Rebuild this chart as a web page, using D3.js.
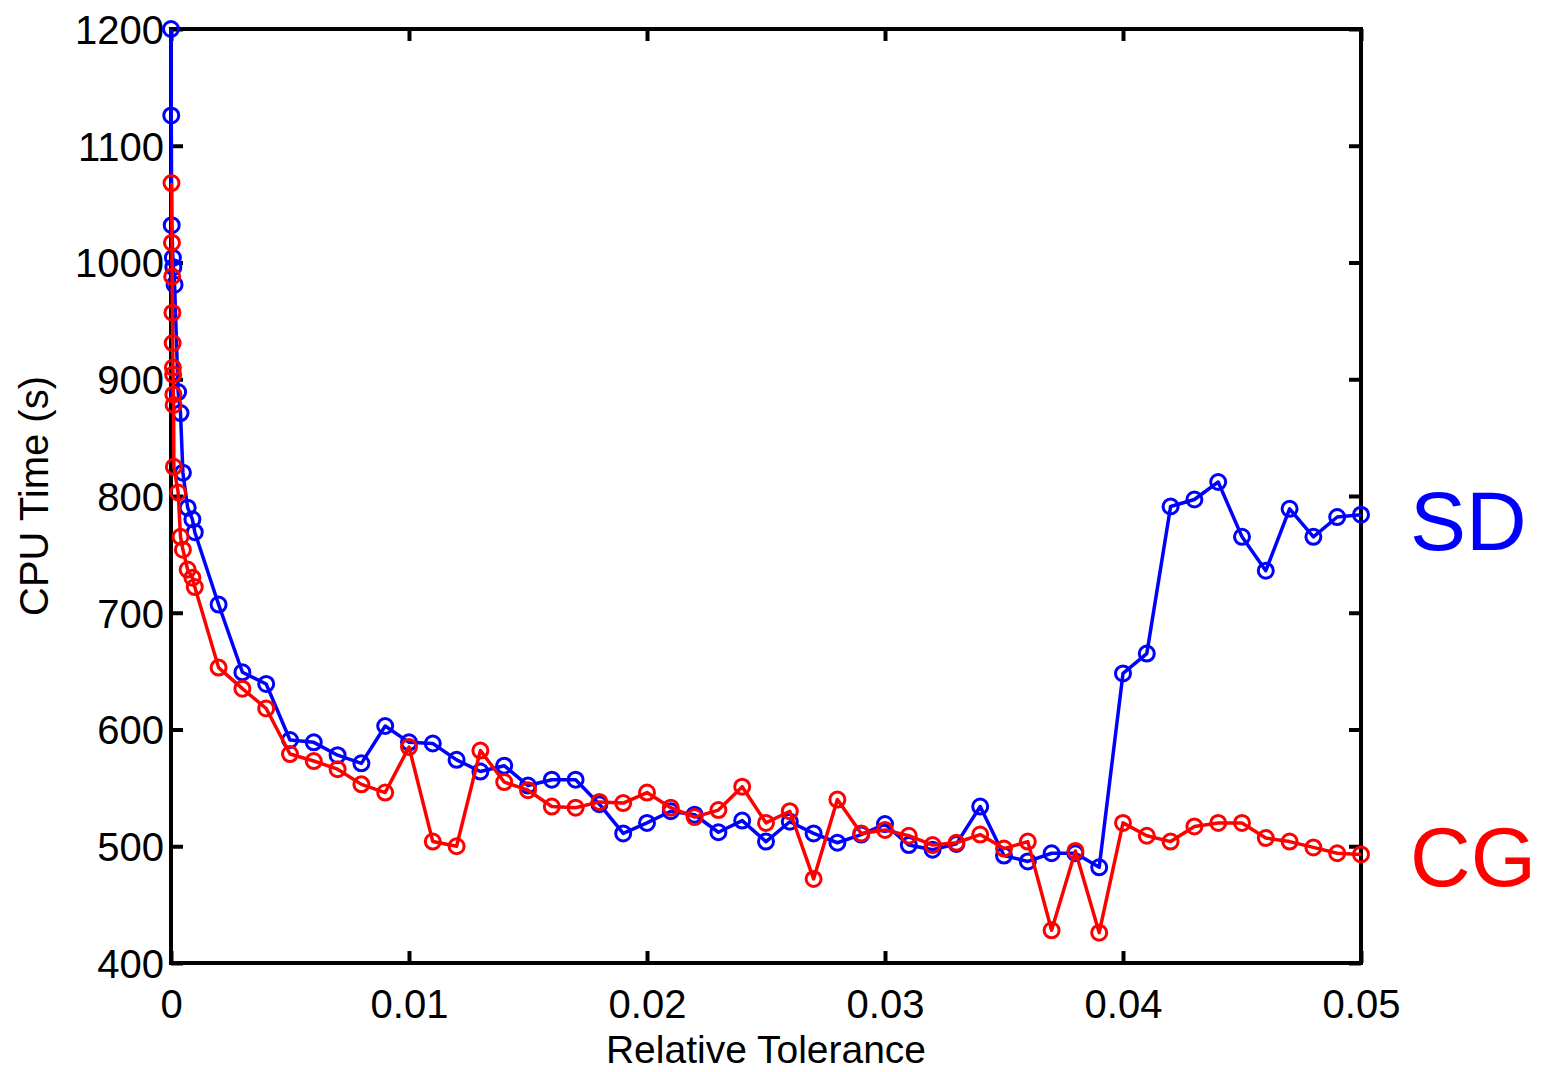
<!DOCTYPE html>
<html>
<head>
<meta charset="utf-8">
<script src="https://cdn.jsdelivr.net/npm/d3@7"></script>
<style>
  html, body { margin: 0; padding: 0; background: #fff; }
  svg { display: block; }
  text { font-family: "Liberation Sans", Arial, Helvetica, sans-serif; }
</style>
</head>
<body>
<svg id="chart" width="1541" height="1072"></svg>
<script>
// ---- Data ----
const xTicks = [0, 0.01, 0.02, 0.03, 0.04, 0.05];
const xTickLabels = ["0", "0.01", "0.02", "0.03", "0.04", "0.05"];
const yTicks = [400, 500, 600, 700, 800, 900, 1000, 1100, 1200];
const yTickLabels = ["400", "500", "600", "700", "800", "900", "1000", "1100", "1200"];

const sdTol = [0, 0.00001, 0.00003, 0.00008, 0.0001, 0.00015, 0.0003, 0.0004, 0.0005, 0.0007, 0.0009, 0.001,
  0.002, 0.003, 0.004, 0.005, 0.006, 0.007, 0.008, 0.009, 0.010,
  0.011, 0.012, 0.013, 0.014, 0.015, 0.016, 0.017, 0.018, 0.019, 0.020,
  0.021, 0.022, 0.023, 0.024, 0.025, 0.026, 0.027, 0.028, 0.029, 0.030,
  0.031, 0.032, 0.033, 0.034, 0.035, 0.036, 0.037, 0.038, 0.039, 0.040,
  0.041, 0.042, 0.043, 0.044, 0.045, 0.046, 0.047, 0.048, 0.049, 0.050];
const sdTime = [1200, 1126, 1032, 1004, 996, 981, 889, 871, 820, 790, 780, 769,
  707, 649, 639, 591, 589, 578, 571, 603, 589,
  588, 574, 564, 569, 552, 557, 557, 536, 511, 520,
  530, 527, 512, 522, 504, 521, 511, 503, 510, 519,
  501, 497, 502, 534, 492, 487, 494, 494, 482, 648,
  665, 791, 797, 812, 765, 736, 789, 765, 782, 784];

const cgTol = [0.00002, 0.00004, 0.00005, 0.00006, 0.00007, 0.00008, 0.00009, 0.0001, 0.00011, 0.00012,
  0.0003, 0.0004, 0.0005, 0.0007, 0.0009, 0.001,
  0.002, 0.003, 0.004, 0.005, 0.006, 0.007, 0.008, 0.009, 0.010,
  0.011, 0.012, 0.013, 0.014, 0.015, 0.016, 0.017, 0.018, 0.019, 0.020,
  0.021, 0.022, 0.023, 0.024, 0.025, 0.026, 0.027, 0.028, 0.029, 0.030,
  0.031, 0.032, 0.033, 0.034, 0.035, 0.036, 0.037, 0.038, 0.039, 0.040,
  0.041, 0.042, 0.043, 0.044, 0.045, 0.046, 0.047, 0.048, 0.049, 0.050];
const cgTime = [1068, 1017, 988, 957, 931, 910, 904, 887, 878, 825,
  803, 765, 754, 737, 730, 722,
  653, 635, 618, 579, 573, 566, 553, 546, 585,
  504, 500, 582, 555, 548, 534, 533, 538, 537, 546,
  533, 525, 531, 551, 520, 530, 472, 540, 511, 514,
  509, 501, 503, 510, 498, 504, 428, 496, 426, 520,
  509, 504, 517, 520, 520, 507, 504, 499, 494, 493];

const seriesNames = ["SD", "CG"];
const seriesColors = ["#0000ff", "#ff0000"];

// ---- Layout ----
const svg = d3.select("#chart");
const mLeft = 171, mRight = 1361, mTop = 29, mBottom = 963;

const x = d3.scaleLinear().domain([0, 0.05]).range([mLeft, mRight]);
const y = d3.scaleLinear().domain([400, 1200]).range([mBottom, mTop]);

const tickLen = 12;
const axisW = 4;

// Bottom axis
const gB = svg.append("g").attr("transform", `translate(0,${mBottom})`)
  .call(d3.axisBottom(x).tickValues(xTicks).tickFormat((d, i) => xTickLabels[i])
    .tickSizeInner(-tickLen).tickSizeOuter(0).tickPadding(27));
// Top axis
const gT = svg.append("g").attr("transform", `translate(0,${mTop})`)
  .call(d3.axisTop(x).tickValues(xTicks).tickFormat("")
    .tickSizeInner(-tickLen).tickSizeOuter(0));
// Left axis
const gL = svg.append("g").attr("transform", `translate(${mLeft},0)`)
  .call(d3.axisLeft(y).tickValues(yTicks).tickFormat((d, i) => yTickLabels[i])
    .tickSizeInner(-tickLen).tickSizeOuter(0).tickPadding(7));
// Right axis
const gR = svg.append("g").attr("transform", `translate(${mRight},0)`)
  .call(d3.axisRight(y).tickValues(yTicks).tickFormat("")
    .tickSizeInner(-tickLen).tickSizeOuter(0));

[gB, gT, gL, gR].forEach(g => {
  g.select(".domain").remove();
  g.selectAll(".tick line").attr("stroke", "#000").attr("stroke-width", axisW);
  g.selectAll(".tick text").attr("fill", "#000").attr("font-size", 40)
    .attr("font-family", "'Liberation Sans', Arial, sans-serif");
});
gL.selectAll(".tick text").attr("dy", "0.36em");
gB.selectAll(".tick text").attr("dy", "0.71em");

// Box
svg.append("rect")
  .attr("x", mLeft).attr("y", mTop)
  .attr("width", mRight - mLeft).attr("height", mBottom - mTop)
  .attr("fill", "none").attr("stroke", "#000").attr("stroke-width", axisW);

// Axis titles
svg.append("text")
  .attr("x", (mLeft + mRight) / 2).attr("y", 1063)
  .attr("text-anchor", "middle").attr("font-size", 39).attr("fill", "#000")
  .text("Relative Tolerance");
svg.append("text")
  .attr("transform", `translate(48,${(mTop + mBottom) / 2}) rotate(-90)`)
  .attr("text-anchor", "middle").attr("font-size", 40).attr("fill", "#000")
  .text("CPU Time (s)");

// Series
const series = [
  { name: seriesNames[0], color: seriesColors[0], xs: sdTol, ys: sdTime },
  { name: seriesNames[1], color: seriesColors[1], xs: cgTol, ys: cgTime }
];

const line = d3.line().x(d => x(d[0])).y(d => y(d[1]));

series.forEach(s => {
  const pts = s.xs.map((t, i) => [t, s.ys[i]]);
  const g = svg.append("g");
  g.append("path").datum(pts)
    .attr("d", line).attr("fill", "none")
    .attr("stroke", s.color).attr("stroke-width", 3.5).attr("stroke-linejoin", "round");
  g.selectAll("circle").data(pts).enter().append("circle")
    .attr("cx", d => x(d[0])).attr("cy", d => y(d[1]))
    .attr("r", 7.5).attr("fill", "none")
    .attr("stroke", s.color).attr("stroke-width", 3);
});

// Series labels at right
svg.append("text").attr("x", 1410).attr("y", 550)
  .attr("font-size", 84).attr("fill", seriesColors[0]).text(seriesNames[0]);
svg.append("text").attr("x", 1410).attr("y", 886)
  .attr("font-size", 84).attr("fill", seriesColors[1]).text(seriesNames[1]);
</script>
</body>
</html>
